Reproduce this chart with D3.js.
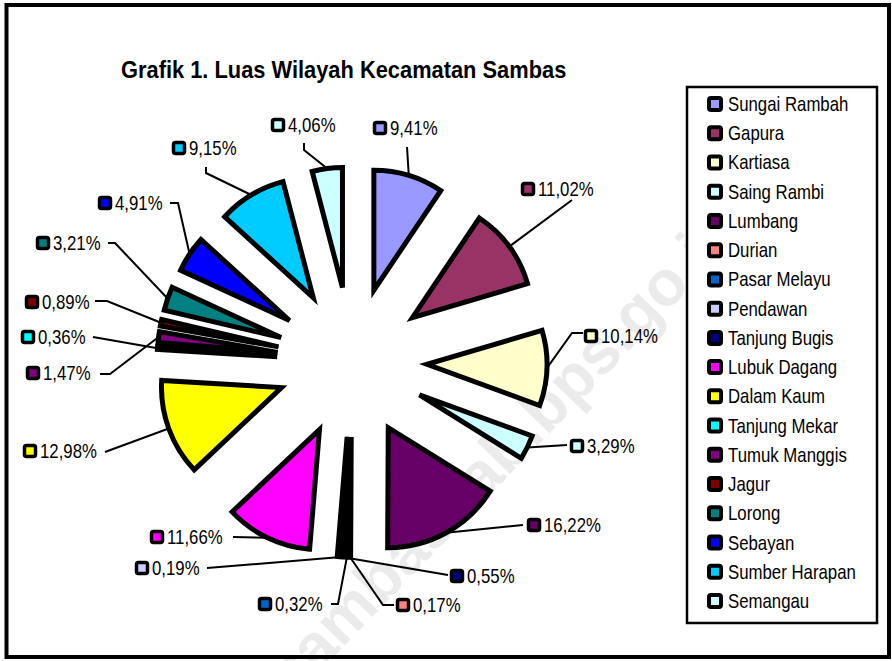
<!DOCTYPE html>
<html>
<head>
<meta charset="utf-8">
<script src="https://cdn.jsdelivr.net/npm/d3@7"></script>
<style>
  html, body { margin: 0; padding: 0; background: #fff; }
  svg { display: block; }
  text { font-family: "Liberation Sans", Arial, sans-serif; }
</style>
</head>
<body>
<script>
// ---------- DATA ----------
const title = "Grafik 1. Luas Wilayah Kecamatan Sambas";
const categories = ["Sungai Rambah", "Gapura", "Kartiasa", "Saing Rambi", "Lumbang", "Durian",
  "Pasar Melayu", "Pendawan", "Tanjung Bugis", "Lubuk Dagang", "Dalam Kaum", "Tanjung Mekar",
  "Tumuk Manggis", "Jagur", "Lorong", "Sebayan", "Sumber Harapan", "Semangau"];
const values = [9.41, 11.02, 10.14, 3.29, 16.22, 0.17, 0.32, 0.19, 0.55, 11.66, 12.98, 0.36,
  1.47, 0.89, 3.21, 4.91, 9.15, 4.06];

// ---------- STYLE ----------
const palette = ["#9999FF", "#993366", "#FFFFCC", "#CCFFFF", "#660066", "#FF8080",
  "#0066CC", "#CCCCFF", "#000080", "#FF00FF", "#FFFF00", "#00FFFF",
  "#800080", "#800000", "#008080", "#0000FF", "#00CCFF", "#CCFFFF"];

// ---------- LAYOUT ----------
const W = 892, H = 661;
const cx = 352, cy = 362, R = 120, explode = 75;
const sx = 0.84; // horizontal squeeze of the original rendering
// label key centres (same order as categories)
const labelKey = [[380,128],[528,189],[591,336],[577,446],[534,525],[403,605],[265,604],[142,568],
  [457,576],[157,537],[30,451],[28,337],[33,373],[32,302],[43,243],[105,203],[179,148],[278,125]];
// leader-line bend points, listed from the label toward the slice
const leaderBends = [
  [[407,147]],
  [[572,200]],
  [[583,333],[572,333]],
  [[567,445]],
  [[523,525]],
  [[394,605],[383,605]],
  [[331,604],[338,604]],
  [[207,568]],
  [[448,575]],
  [[233,537]],
  [[105,452]],
  [[93,337]],
  [[100,374],[110,374]],
  [[95,301],[107,301]],
  [[108,243],[115,243]],
  [[170,203],[178,203]],
  [[206,167],[206,173]],
  [[304,143],[304,150]]
];

const svg = d3.select("body").append("svg").attr("width", W).attr("height", H);
svg.append("rect").attr("width", W).attr("height", H).attr("fill", "#fff");

function squeezedText(g, x, y, str, size, weight, anchor, scale) {
  return g.append("text")
    .attr("transform", `translate(${x},${y}) scale(${scale},1)`)
    .attr("font-size", size)
    .attr("font-weight", weight || "normal")
    .attr("text-anchor", anchor || "start")
    .attr("fill", "#000")
    .text(str);
}

// watermark
svg.append("text")
  .attr("transform", "translate(292,700) rotate(-46)")
  .attr("font-size", 64).attr("font-weight", "bold")
  .attr("fill", "#000").attr("fill-opacity", 0.08)
  .text("sambaskab.bps.go.id");

// outer frame
svg.append("rect").attr("x", 6.5).attr("y", 5).attr("width", 882.5).attr("height", 652)
  .attr("fill", "none").attr("stroke", "#000").attr("stroke-width", 4);

// title
squeezedText(svg, 121, 78, title, 23, "bold", "start", 0.95);

// pie
const pie = d3.pie().sort(null).value(d => d).startAngle(0).endAngle(2 * Math.PI);
const arcs = pie(values);
const arcGen = d3.arc().innerRadius(0).outerRadius(R);
const mid = a => (a.startAngle + a.endAngle) / 2;
const off = a => [explode * Math.sin(mid(a)), -explode * Math.cos(mid(a))];

const gPie = svg.append("g").attr("transform", `translate(${cx},${cy})`);
gPie.selectAll("path.slice").data(arcs).join("path")
  .attr("class", "slice")
  .attr("transform", a => `translate(${off(a)[0]},${off(a)[1]})`)
  .attr("d", arcGen)
  .attr("fill", (a, i) => palette[i])
  .attr("stroke", "#000")
  .attr("stroke-width", 5)
  .attr("stroke-linejoin", "miter");

// leader lines
const line = d3.line();
arcs.forEach((a, i) => {
  const o = off(a);
  const start = [cx + o[0] + R * Math.sin(mid(a)), cy + o[1] - R * Math.cos(mid(a))];
  const pts = [start].concat(leaderBends[i].slice().reverse());
  svg.append("path").attr("d", line(pts)).attr("fill", "none")
    .attr("stroke", "#000").attr("stroke-width", 2);
});

// data labels
const fmt = v => v.toFixed(2).replace(".", ",") + "%";
arcs.forEach((a, i) => {
  const [kx, ky] = labelKey[i];
  svg.append("rect").attr("x", kx - 5.5).attr("y", ky - 5.5).attr("width", 11).attr("height", 11)
    .attr("rx", 2).attr("fill", palette[i]).attr("stroke", "#000").attr("stroke-width", 3.5);
  squeezedText(svg, kx + 10, ky + 7, fmt(values[i]), 20, "normal", "start", sx);
});

// legend
const lg = svg.append("g");
lg.append("rect").attr("x", 687).attr("y", 87).attr("width", 190).attr("height", 536)
  .attr("fill", "#fff").attr("stroke", "#000").attr("stroke-width", 2.5);
const ly = d3.scalePoint().domain(categories).range([104, 601]);
categories.forEach((c, i) => {
  const y = ly(c);
  lg.append("rect").attr("x", 715 - 6).attr("y", y - 6).attr("width", 12).attr("height", 12)
    .attr("rx", 2).attr("fill", palette[i]).attr("stroke", "#000").attr("stroke-width", 4);
  squeezedText(lg, 728, y + 7, c, 20, "normal", "start", sx);
});
</script>
</body>
</html>
